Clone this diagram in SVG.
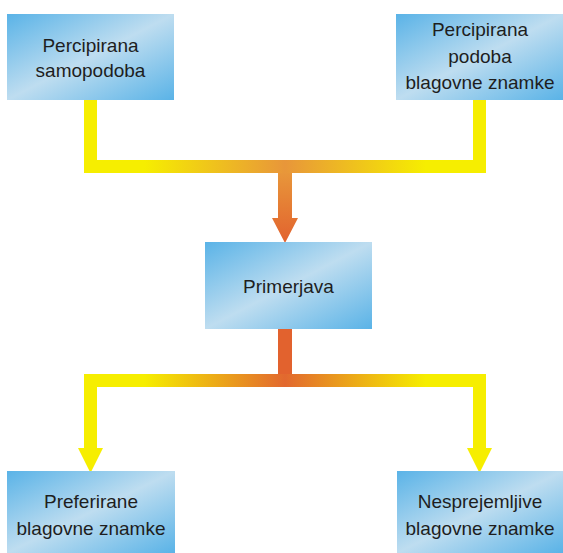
<svg xmlns="http://www.w3.org/2000/svg" width="563" height="553" viewBox="0 0 563 553">
<defs>
<linearGradient id="box" x1="0" y1="0" x2="1" y2="1">
<stop offset="0" stop-color="#5AB3E7"/>
<stop offset="0.5" stop-color="#BEDDF0"/>
<stop offset="1" stop-color="#5AB3E7"/>
</linearGradient>
<linearGradient id="hTop" gradientUnits="userSpaceOnUse" x1="84" y1="0" x2="486" y2="0">
<stop offset="0" stop-color="#F6EE00"/>
<stop offset="0.15" stop-color="#F6EE00"/>
<stop offset="0.5" stop-color="#E8963A"/>
<stop offset="0.85" stop-color="#F6EE00"/>
<stop offset="1" stop-color="#F6EE00"/>
</linearGradient>
<linearGradient id="hBot" gradientUnits="userSpaceOnUse" x1="84" y1="0" x2="486" y2="0">
<stop offset="0" stop-color="#F6EE00"/>
<stop offset="0.15" stop-color="#F6EE00"/>
<stop offset="0.5" stop-color="#E2682F"/>
<stop offset="0.85" stop-color="#F6EE00"/>
<stop offset="1" stop-color="#F6EE00"/>
</linearGradient>
<linearGradient id="vTop" gradientUnits="userSpaceOnUse" x1="0" y1="173" x2="0" y2="243">
<stop offset="0" stop-color="#E8963A"/>
<stop offset="1" stop-color="#E2622E"/>
</linearGradient>
</defs>
<style>
.box{fill:url(#box)}
.t{font-family:"Liberation Sans",Arial,sans-serif;font-size:19px;fill:#1e1e1e;text-anchor:middle}
.y{fill:#F6EE00}
</style>
<g id="connectors">
<rect class="y" x="84" y="100" width="13" height="66"/>
<rect class="y" x="473" y="100" width="13" height="66"/>
<rect x="84" y="160" width="402" height="13" fill="url(#hTop)"/>
<polygon points="278,173 292,173 292,218 298,218 285,243 272,218 278,218" fill="url(#vTop)"/>
<rect x="278" y="329" width="14" height="50" fill="#E2622E"/>
<rect x="84" y="374" width="402" height="13" fill="url(#hBot)"/>
<polygon class="y" points="84,380 97,380 97,448 103,448 90.5,473 78,448 84,448"/>
<polygon class="y" points="473,380 486,380 486,448 492,448 479.5,473 467,448 473,448"/>
</g>
<g id="n1"><rect class="box" x="7" y="14" width="167" height="86"/><text class="t" x="90.5" y="52">Percipirana</text><text class="t" x="90.5" y="77">samopodoba</text></g>
<g id="n2"><rect class="box" x="396" y="14" width="167" height="86"/><text class="t" x="480" y="36">Percipirana</text><text class="t" x="480" y="62.5">podoba</text><text class="t" x="480" y="89">blagovne znamke</text></g>
<g id="n3"><rect class="box" x="205" y="242" width="167" height="87"/><text class="t" x="288.5" y="293">Primerjava</text></g>
<g id="n4"><rect class="box" x="7" y="471" width="168" height="82"/><text class="t" x="91" y="508">Preferirane</text><text class="t" x="91" y="535">blagovne znamke</text></g>
<g id="n5"><rect class="box" x="397" y="471" width="166" height="82"/><text class="t" x="480" y="508">Nesprejemljive</text><text class="t" x="480" y="535">blagovne znamke</text></g>
</svg>
